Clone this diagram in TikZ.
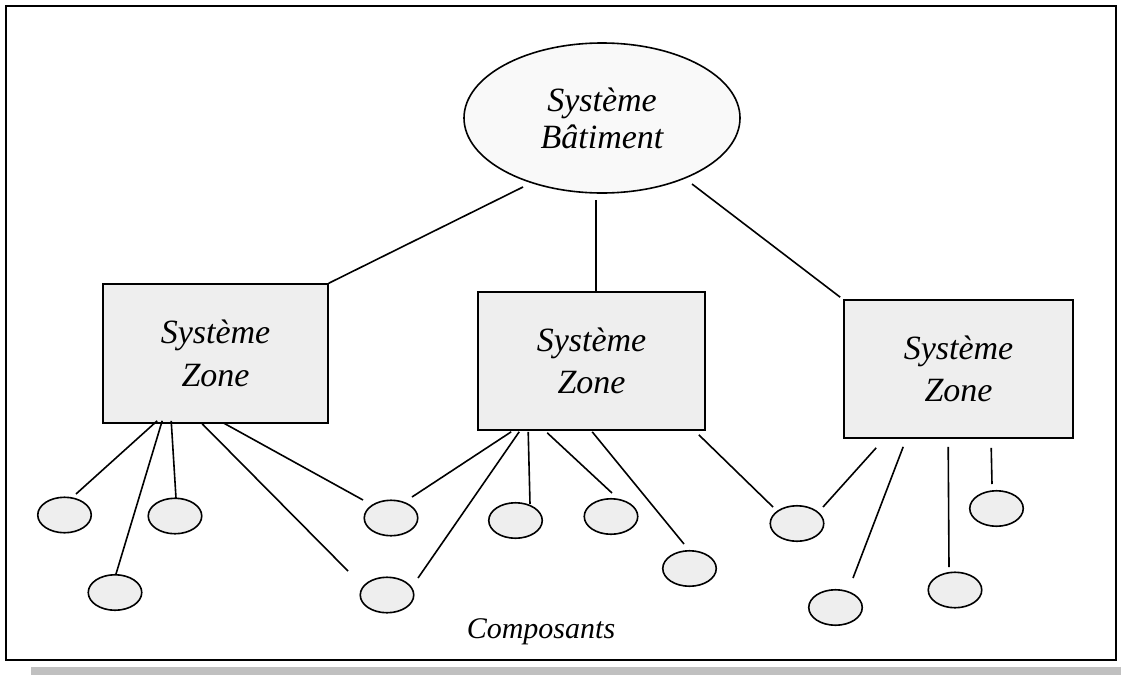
\documentclass[tikz,border=0pt]{standalone}
\usepackage{fontspec}
\setmainfont{Liberation Serif}
\usetikzlibrary{shapes.geometric,calc}
\definecolor{boxfill}{HTML}{EEEEEE}
\definecolor{topfill}{HTML}{F9F9F9}
\definecolor{shadowgray}{HTML}{C0C0C0}
\tikzset{
  zonebox/.style={draw=black, line width=1.6pt, fill=boxfill, rectangle, inner sep=0pt,
    align=center, font=\fontsize{34}{42.5}\selectfont\itshape},
  comp/.style={draw=black, line width=1.6pt, fill=boxfill, ellipse, inner sep=0pt,
    minimum width=53.5pt, minimum height=35.5pt},
  topell/.style={draw=black, line width=1.6pt, fill=topfill, ellipse, inner sep=0pt,
    minimum width=276pt, minimum height=150pt, align=center,
    font=\fontsize{34}{37}\selectfont\itshape},
  link/.style={draw=black, line width=1.6pt}
}
\begin{document}
\begin{tikzpicture}[x=1pt,y=-1pt]
\useasboundingbox (0,0) rectangle (1121,675);
% shadow and frame
\fill[shadowgray] (31,667) rectangle (1121,675);
\draw[line width=2.4pt] (6,6) rectangle (1116,660);

% main nodes
\node[topell] (top) at (602,118) {Système\\Bâtiment};
\node[zonebox, minimum width=225pt, minimum height=139pt] (z1) at (215.5,353.5) {Système\\Zone};
\node[zonebox, minimum width=227pt, minimum height=138pt] (z2) at (591.5,361) {Système\\Zone};
\node[zonebox, minimum width=229pt, minimum height=138pt] (z3) at (958.5,369) {Système\\Zone};

% components
\node[comp] (c1) at (64.5,515) {};
\node[comp] (c2) at (175,516) {};
\node[comp] (c3) at (115,592.5) {};
\node[comp] (c4) at (391,518) {};
\node[comp] (c5) at (387,595) {};
\node[comp] (c6) at (515.5,520.5) {};
\node[comp] (c7) at (611,516.5) {};
\node[comp] (c8) at (689.5,568.5) {};
\node[comp] (c9) at (797,523.5) {};
\node[comp] (c10) at (835.5,607.5) {};
\node[comp] (c11) at (955,590) {};
\node[comp] (c12) at (996.5,508.5) {};

\node[anchor=base, font=\fontsize{30}{36}\selectfont\itshape] (lab) at (541,638) {Composants};

% top links
\draw[link] ($(top)+(-79,69)$) -- (z1.north east);
\draw[link] ($(top)+(-6,82)$) -- ($(z2.north)+(4.5,0)$);
\draw[link] ($(top)+(90,66)$) -- ($(z3.north west)+(-3,-2)$);

% zone 1 links
\draw[link] ($(z1.south west)+(55,-3)$) -- ($(c1)+(11.5,-21)$);
\draw[link] ($(z1.south west)+(60,-3)$) -- ($(c3)+(1,-18.5)$);
\draw[link] ($(z1.south west)+(69,-3)$) -- ($(c2)+(1,-18)$);
\draw[link] ($(z1.south west)+(99,-1)$) -- ($(c5)+(-39,-24)$);
\draw[link] ($(z1.south west)+(121,-1)$) -- ($(c4)+(-28,-18)$);

% zone 2 links
\draw[link] ($(z2.south west)+(34,1)$) -- ($(c4)+(21,-21)$);
\draw[link] ($(z2.south west)+(42,1)$) -- ($(c5)+(31,-17)$);
\draw[link] ($(z2.south west)+(51,1)$) -- ($(c6)+(14.5,-16.5)$);
\draw[link] ($(z2.south west)+(70,2)$) -- ($(c7)+(1,-23.5)$);
\draw[link] ($(z2.south west)+(115,1)$) -- ($(c8)+(-5.5,-24.5)$);
\draw[link] ($(z2.south east)+(-7,4)$) -- ($(c9)+(-24,-16.5)$);

% zone 3 links
\draw[link] ($(z3.south west)+(33,9)$) -- ($(c9)+(26,-16.5)$);
\draw[link] ($(z3.south west)+(60,8)$) -- ($(c10)+(17.5,-29.5)$);
\draw[link] ($(z3.south west)+(105,8)$) -- ($(c11)+(-6,-23)$);
\draw[link] ($(z3.south west)+(148,9)$) -- ($(c12)+(-4.5,-24.5)$);
\end{tikzpicture}
\end{document}
